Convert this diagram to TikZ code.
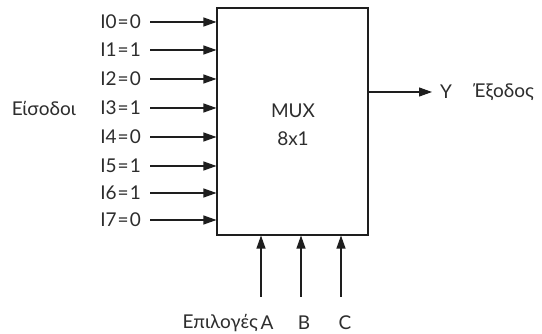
\documentclass[tikz,border=0pt]{standalone}
\usepackage{fontspec}
\setmainfont{Lato}
\usetikzlibrary{arrows.meta}
\definecolor{ink}{RGB}{30,30,30}
\definecolor{txt}{RGB}{45,45,45}
\tikzset{
  arr/.style={draw=ink, line width=1.1pt, -{Triangle[length=13pt,width=9pt]}},
  lbl/.style={text=txt, font=\fontsize{19}{20}\selectfont, inner sep=0pt},
  muxbox/.style={draw=ink, line width=1.1pt, minimum width=151pt, minimum height=227pt, inner sep=0pt}
}
\begin{document}
\begin{tikzpicture}[x=1pt,y=-1pt]
\useasboundingbox[fill=white] (0,0) rectangle (542,334);
\node[muxbox] (mux) at (292.5,121.5) {};
\node[lbl] (mt) at (293,111) {MUX};
\node[lbl] (nt) at (293,139) {8x1};
\foreach \i/\v/\y in {0/0/22,1/1/50,2/0/79,3/1/108,4/0/137,5/1/166,6/1/193,7/0/220}{
  \node[lbl, anchor=east] (in\i) at (141,\y) {I\i{}\kern1pt=\kern1pt\v};
  \coordinate (s\i) at (150,\y);
  \draw[arr] (s\i) -- (s\i -| mux.west);
}
\node[lbl, anchor=east] (eis) at (76,108) {Είσοδοι};
\coordinate (o) at (mux.east |- 0,92);
\coordinate (oe) at (432,92);
\draw[arr] (o) -- (oe);
\node[lbl, anchor=west] (y) at (440,92) {Y};
\node[lbl, anchor=west] (exo) at (473,92) {Έξοδος};
\foreach \n/\x/\lx in {A/261/267,B/301/304,C/341/345}{
  \coordinate (c\n) at (\x,297);
  \draw[arr] (c\n) -- (c\n |- mux.south);
  \node[lbl] (l\n) at (\lx,323) {\n};
}
\node[lbl, anchor=east] (epi) at (258,323) {Επιλογές};
\end{tikzpicture}
\end{document}
